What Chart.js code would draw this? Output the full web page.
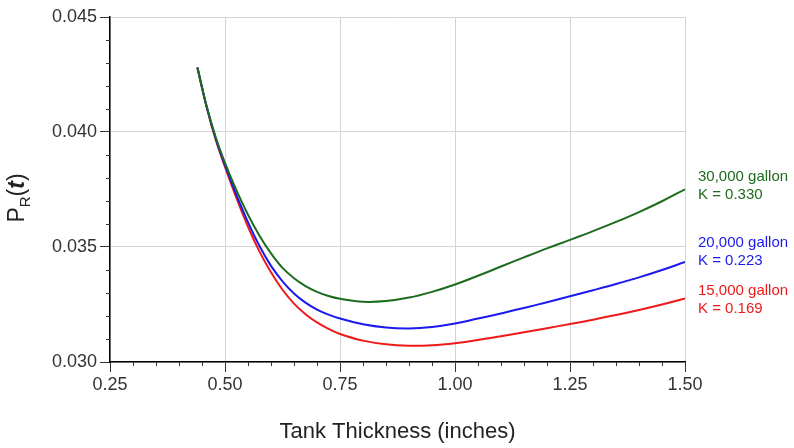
<!DOCTYPE html>
<html>
<head>
<meta charset="utf-8">
<script src="https://cdn.jsdelivr.net/npm/chart.js@4.4.1/dist/chart.umd.min.js"></script>
<style>
  html, body { margin: 0; padding: 0; background: #fff; }
  canvas { display: block; }
</style>
</head>
<body>
<canvas id="tankChart" width="794" height="448"></canvas>
<script>
// Chart data
const thickness = [0.44, 0.46, 0.48, 0.50, 0.525, 0.55, 0.575, 0.60, 0.625, 0.65, 0.675, 0.70, 0.725,
  0.75, 0.80, 0.85, 0.90, 0.95, 1.00, 1.05, 1.10, 1.15, 1.20, 1.25, 1.30, 1.35, 1.40, 1.45, 1.50];

const pr30000 = [0.04280, 0.04113, 0.03976, 0.03866, 0.03746, 0.03640, 0.03549, 0.03472, 0.03409, 0.03364, 0.03330, 0.03305, 0.03287,
  0.03275, 0.03262, 0.03265, 0.03280, 0.03305, 0.03337, 0.03375, 0.03415, 0.03455, 0.03494, 0.03531, 0.03569, 0.03609, 0.03652, 0.03699, 0.03751];

const pr20000 = [0.04280, 0.04111, 0.03970, 0.03856, 0.03726, 0.03608, 0.03504, 0.03418, 0.03351, 0.03298, 0.03258, 0.03228, 0.03206,
  0.03189, 0.03164, 0.03150, 0.03146, 0.03152, 0.03167, 0.03189, 0.03211, 0.03235, 0.03260, 0.03286, 0.03312, 0.03339, 0.03368, 0.03400, 0.03435];

const pr15000 = [0.04280, 0.04109, 0.03965, 0.03848, 0.03712, 0.03588, 0.03480, 0.03390, 0.03314, 0.03254, 0.03208, 0.03172, 0.03144,
  0.03122, 0.03093, 0.03077, 0.03071, 0.03073, 0.03082, 0.03096, 0.03112, 0.03129, 0.03147, 0.03165, 0.03184, 0.03204, 0.03226, 0.03250, 0.03276];

const seriesNames = ['30,000 gallon', '20,000 gallon', '15,000 gallon'];
const kLabels = ['K = 0.330', 'K = 0.223', 'K = 0.169'];
const xTickValues = [0.25, 0.50, 0.75, 1.00, 1.25, 1.50];
const yTickValues = [0.030, 0.035, 0.040, 0.045];

const colors = ['#1d6b1d', '#1a1aee', '#ee1a1a'];
const labelOffsets = [-12, -19, -8]; // first label line, relative to the curve end
const FONT = '"Liberation Sans", Arial, Helvetica, sans-serif';

function toPoints(ys) {
  return thickness.map((x, i) => ({ x: x, y: ys[i] }));
}

// Minor ticks: 4 between each labelled tick, shorter than the major ones
const minorTicks = {
  id: 'minorTicks',
  afterDraw(chart) {
    const { ctx, chartArea, scales } = chart;
    ctx.save();
    ctx.strokeStyle = '#333';
    ctx.lineWidth = 1;
    ctx.beginPath();
    for (let i = 0; i <= 25; i++) {
      if (i % 5 === 0) continue;
      const px = Math.round(scales.x.getPixelForValue(0.25 + i * 0.05)) + 0.5;
      ctx.moveTo(px, chartArea.bottom);
      ctx.lineTo(px, chartArea.bottom + 4);
    }
    for (let i = 0; i <= 15; i++) {
      if (i % 5 === 0) continue;
      const py = Math.round(scales.y.getPixelForValue(0.030 + i * 0.001)) + 0.5;
      ctx.moveTo(chartArea.left - 4, py);
      ctx.lineTo(chartArea.left, py);
    }
    ctx.stroke();
    ctx.restore();
  }
};

// Series names and K values at the right end of each curve
const endLabels = {
  id: 'endLabels',
  afterDatasetsDraw(chart) {
    const { ctx, chartArea } = chart;
    ctx.save();
    ctx.font = '15px ' + FONT;
    ctx.textAlign = 'left';
    ctx.textBaseline = 'middle';
    chart.data.datasets.forEach((ds, i) => {
      const pts = chart.getDatasetMeta(i).data;
      const yEnd = pts[pts.length - 1].y;
      const y1 = yEnd + labelOffsets[i];
      ctx.fillStyle = colors[i];
      ctx.fillText(seriesNames[i], chartArea.right + 13, y1);
      ctx.fillText(kLabels[i], chartArea.right + 13, y1 + 18);
    });
    ctx.restore();
  }
};

// Y axis title P_R(t), rotated, with subscript and italic t
const yTitle = {
  id: 'yTitle',
  afterDraw(chart) {
    const { ctx } = chart;
    ctx.save();
    ctx.translate(24, 198);
    ctx.rotate(-Math.PI / 2);
    ctx.fillStyle = '#222';
    ctx.textBaseline = 'alphabetic';
    ctx.textAlign = 'left';
    const parts = [
      { t: 'P', f: '23px ' + FONT, dy: 0 },
      { t: 'R', f: '15px ' + FONT, dy: 6 },
      { t: '(', f: '23px ' + FONT, dy: 0 },
      { t: 't', f: 'italic bold 23px ' + FONT, dy: 0 },
      { t: ')', f: '23px ' + FONT, dy: 0 }
    ];
    let w = 0;
    parts.forEach(p => { ctx.font = p.f; w += ctx.measureText(p.t).width; });
    let x = -w / 2;
    parts.forEach(p => {
      ctx.font = p.f;
      ctx.fillText(p.t, x, p.dy);
      x += ctx.measureText(p.t).width;
    });
    ctx.restore();
  }
};

const ctx = document.getElementById('tankChart').getContext('2d');
const tankChart = new Chart(ctx, {
  type: 'line',
  data: {
    datasets: [pr30000, pr20000, pr15000].map((ys, i) => ({
      label: seriesNames[i],
      data: toPoints(ys),
      borderColor: colors[i],
      borderWidth: 2,
      pointRadius: 0,
      tension: 0.4,
      fill: false
    }))
  },
  options: {
    responsive: false,
    animation: false,
    devicePixelRatio: 1,
    layout: { padding: { top: 17, right: 109, left: 0, bottom: 0 } },
    plugins: {
      legend: { display: false },
      tooltip: { enabled: false }
    },
    scales: {
      x: {
        type: 'linear',
        min: 0.25,
        max: 1.50,
        afterFit: s => { s.height = 86; },
        afterBuildTicks: s => { s.ticks = xTickValues.map(v => ({ value: v })); },
        grid: { color: '#d4d4d4', lineWidth: 1, tickLength: 10, tickColor: '#333' },
        border: { color: '#000', width: 1.5 },
        ticks: {
          font: { family: FONT, size: 18 },
          color: '#333',
          padding: 2,
          maxRotation: 0,
          autoSkip: false,
          callback: v => v.toFixed(2)
        },
        title: {
          display: true,
          text: 'Tank Thickness (inches)',
          font: { family: FONT, size: 22 },
          color: '#222',
          padding: { top: 0, bottom: 3 }
        }
      },
      y: {
        min: 0.030,
        max: 0.045,
        afterFit: s => { s.width = 110; },
        afterBuildTicks: s => { s.ticks = yTickValues.map(v => ({ value: v })); },
        grid: { color: '#d4d4d4', lineWidth: 1, tickLength: 10, tickColor: '#333' },
        border: { color: '#000', width: 1.5 },
        ticks: {
          font: { family: FONT, size: 18 },
          color: '#333',
          padding: 3,
          callback: v => v.toFixed(3)
        }
      }
    }
  },
  plugins: [minorTicks, endLabels, yTitle]
});
</script>
</body>
</html>
